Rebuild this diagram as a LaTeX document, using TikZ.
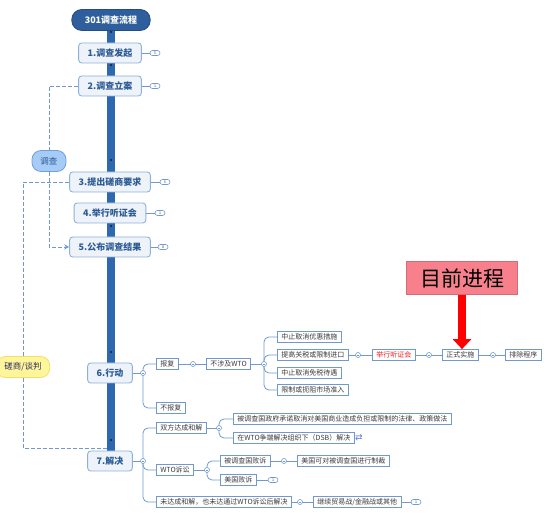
\documentclass[tikz,border=0pt]{standalone}
\usepackage{fontspec}
\setmainfont{Noto Sans CJK SC}
\newfontfamily\symfont{DejaVu Sans}
\usetikzlibrary{arrows.meta,backgrounds}
\definecolor{spineblue}{HTML}{2E68AE}
\definecolor{rootblue}{HTML}{2F5E9C}
\definecolor{rootline}{HTML}{254C82}
\definecolor{boxfill}{HTML}{EEF3FA}
\definecolor{boxline}{HTML}{8DB1DB}
\definecolor{boxtext}{HTML}{2B5A94}
\definecolor{linkblue}{HTML}{7099CE}
\definecolor{leaftext}{HTML}{3A3A3A}
\definecolor{calloutred}{HTML}{F7808C}
\definecolor{probefill}{HTML}{A6CBF6}
\definecolor{probeline}{HTML}{6FA0DC}
\definecolor{talkfill}{HTML}{FFF59A}
\definecolor{talkline}{HTML}{F3DE68}
\definecolor{hearred}{HTML}{E8202A}
\tikzset{
  rootbox/.style={draw=rootline, fill=rootblue, text=white, rounded corners=10pt,
    line width=0.8pt, minimum height=21pt, inner xsep=13pt,
    font=\fontsize{9}{10}\selectfont\bfseries},
  stagebox/.style={draw=boxline, fill=boxfill, rounded corners=3pt, line width=0.9pt,
    text=boxtext, font=\fontsize{9}{10}\selectfont\bfseries, inner xsep=9pt,
    minimum height=20pt},
  leafbox/.style={draw=linkblue, fill=white, line width=0.7pt, text=leaftext,
    font=\fontsize{7}{8}\selectfont, inner xsep=4pt, inner ysep=0pt,
    minimum height=11pt, anchor=west},
  foldmark/.style={circle, draw=linkblue, fill=white, line width=0.6pt,
    minimum size=5pt, inner sep=0pt,
    path picture={\draw[linkblue, line width=0.5pt]
      ([xshift=-1.3pt]path picture bounding box.center) --
      ([xshift=1.3pt]path picture bounding box.center);}},
  foldnum/.style={draw=linkblue, fill=white, rounded corners=2.5pt, line width=0.6pt,
    minimum width=10pt, minimum height=5pt, inner sep=0pt,
    font=\fontsize{3.5}{4}\selectfont, text=leaftext},
  linkline/.style={draw=linkblue, line width=0.8pt, rounded corners=5pt},
  relline/.style={draw=linkblue, line width=0.8pt, dash pattern=on 4pt off 2pt}
}
\begin{document}
\begin{tikzpicture}[x=1pt,y=-1pt]
\useasboundingbox (0,0) rectangle (550,513);
% main stages
\node[rootbox] (root) at (111,20) {301调查流程};
\node[stagebox] (s1) at (110,53) {1.调查发起};
\node[stagebox] (s2) at (110,86) {2.调查立案};
\node[stagebox] (s3) at (110,182) {3.提出磋商要求};
\node[stagebox] (s4) at (110,213) {4.举行听证会};
\node[stagebox] (s5) at (110,247) {5.公布调查结果};
\node[stagebox] (s6) at (110,373) {6.行动};
\node[stagebox] (s7) at (110,461) {7.解决};
% side relations
\node[draw=probeline, fill=probefill, rounded corners=9pt, line width=0.8pt,
  minimum height=21pt, inner xsep=8.5pt, text=boxtext,
  font=\fontsize{8.5}{10}\selectfont] (probe) at (49,161) {调查};
\node[draw=talkline, fill=talkfill, rounded corners=9pt, line width=0.8pt,
  minimum height=21pt, inner xsep=8pt, text=leaftext!80!blue,
  font=\fontsize{8.5}{10}\selectfont] (talk) at (23,367) {磋商/谈判};
\coordinate (j7) at (111,448);
\begin{scope}[on background layer]
\draw[relline] (s2.west) -| (probe.north);
\draw[relline, -{Stealth[length=5pt,width=5pt]}] (probe.south) |- (s5.west);
\draw[relline] (s3.west) -| (talk.north);
\draw[relline] (talk.south) |- (j7);
% spine
\fill[spineblue] ([xshift=-4pt]root.south -| 111,0) rectangle ([xshift=4pt]s7.north -| 111,0);
\foreach \y in {32,65,160,226,352,440}
  \fill (111,\y) circle (0.8);
\end{scope}
% hidden branches
\node[foldnum] (n1) at (155,53) {5};
\node[foldnum] (n2) at (155,86) {1};
\node[foldnum] (n3) at (165,182) {6};
\node[foldnum] (n4) at (160,213) {1};
\node[foldnum] (n5) at (163,247) {8};
\draw[linkline] (s1.east) -- (n1.west);
\draw[linkline] (s2.east) -- (n2.west);
\draw[linkline] (s3.east) -- (n3.west);
\draw[linkline] (s4.east) -- (n4.west);
\draw[linkline] (s5.east) -- (n5.west);
% 6.行动
\node[leafbox] (bf) at (156,364) {报复};
\node[leafbox] (nbf) at (156,408) {不报复};
\node[leafbox] (nw) at (206,364) {不涉及WTO};
\node[leafbox] (c1) at (277,337) {中止取消优惠措施};
\node[leafbox] (c2) at (277,355) {提高关税或限制进口};
\node[leafbox] (c3) at (277,373) {中止取消免税待遇};
\node[leafbox] (c4) at (277,390) {限制或扼阻市场准入};
\node[leafbox, text=hearred] (tz) at (372,355) {举行听证会};
\node[leafbox] (zs) at (442,355) {正式实施};
\node[leafbox] (pc) at (505,355) {排除程序};
\coordinate (f6) at (143,373);
\coordinate (f6a) at (193,364);
\coordinate (f6b) at (264,364);
\coordinate (f6c) at (358,355);
\coordinate (f6d) at (429,355);
\coordinate (f6e) at (493,355);
\draw[linkline] (s6.east) -- (f6);
\draw[linkline] (f6) |- (bf.west);
\draw[linkline] (f6) |- (nbf.west);
\draw[linkline] (bf.east) -- (nw.west);
\foreach \c in {c1,c2,c3,c4}
  \draw[linkline] (f6b) |- (\c.west);
\draw[linkline] (nw.east) -- (f6b);
\draw[linkline] (c2.east) -- (tz.west);
\draw[linkline] (tz.east) -- (zs.west);
\draw[linkline] (zs.east) -- (pc.west);
\foreach \f in {f6,f6a,f6b,f6c,f6d,f6e}
  \node[foldmark] at (\f) {};
% current stage
\node[fill=calloutred, draw=calloutred!85!black, line width=0.4pt,
  minimum width=111pt, minimum height=33pt, inner sep=0pt,
  font=\fontsize{21}{24}\selectfont] (now) at (462,278) {目前进程};
\draw[red, line width=8pt, -{Triangle[width=18pt,length=10pt]}] (now.south) -- (zs.north -| now.south);
% 7.解决
\node[leafbox] (sh) at (156,428) {双方达成和解};
\node[leafbox] (wto) at (156,470) {WTO诉讼};
\node[leafbox] (wd) at (156,502) {未达成和解，也未达通过WTO诉讼后解决};
\node[leafbox] (h1) at (233,419) {被调查国政府承诺取消对美国商业造成负担或限制的法律、政策做法};
\node[leafbox] (h2) at (233,438) {在WTO争端解决组织下（DSB）解决};
\node[text=linkblue!80!blue, inner sep=0pt, font=\symfont\fontsize{9}{9}\selectfont]
  (swap) at (359,438) {⇄};
\node[leafbox] (w1) at (220,461) {被调查国败诉};
\node[leafbox] (w2) at (220,480) {美国败诉};
\node[leafbox] (w3) at (297,461) {美国可对被调查国进行制裁};
\node[leafbox] (w4) at (313,502) {继续贸易战/金融战或其他};
\node[foldnum] (n7a) at (273,480) {1};
\node[foldnum] (n7b) at (416,502) {1};
\coordinate (f7) at (143,461);
\coordinate (f7a) at (219,428);
\coordinate (f7b) at (207,470);
\coordinate (f7c) at (284,461);
\coordinate (f7d) at (300,502);
\draw[linkline] (s7.east) -- (f7);
\foreach \c in {sh,wto,wd}
  \draw[linkline] (f7) |- (\c.west);
\draw[linkline] (sh.east) -- (f7a);
\draw[linkline] (f7a) |- (h1.west);
\draw[linkline] (f7a) |- (h2.west);
\draw[linkline] (wto.east) -- (f7b);
\draw[linkline] (f7b) |- (w1.west);
\draw[linkline] (f7b) |- (w2.west);
\draw[linkline] (w1.east) -- (w3.west);
\draw[linkline] (w2.east) -- (n7a.west);
\draw[linkline] (wd.east) -- (w4.west);
\draw[linkline] (w4.east) -- (n7b.west);
\foreach \f in {f7,f7a,f7b,f7c,f7d}
  \node[foldmark] at (\f) {};
\end{tikzpicture}
\end{document}
